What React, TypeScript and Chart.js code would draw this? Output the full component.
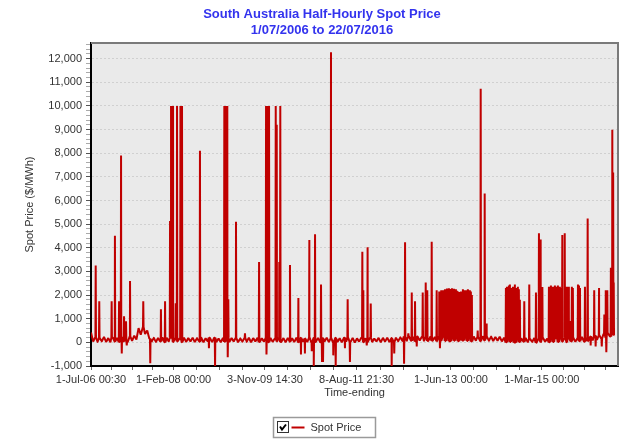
import React, { useEffect, useRef } from 'react';
import { Chart, registerables } from 'chart.js';

Chart.register(...registerables);

const titleLines = ['South Australia Half-Hourly Spot Price', '1/07/2006 to 22/07/2016'];
const seriesLabel = 'Spot Price';
const xAxisTitle = 'Time-ending';
const yAxisTitle = 'Spot Price ($/MWh)';

// x axis: days since 1-Jul-2006 00:30
const tickLabels = ['1-Jul-06 00:30', '1-Feb-08 00:00', '3-Nov-09 14:30', '8-Aug-11 21:30', '1-Jun-13 00:00', '1-Mar-15 00:00'];
const tickDays = [0, 580, 1221.6, 1864.9, 2527, 3165];
const minorTickDays = [145, 290, 435, 740.4, 900.8, 1061.2, 1382.4, 1543.2, 1704.1, 2030.4, 2195.9, 2361.5, 2686.5, 2846, 3005.5, 3315, 3465, 3615];
const xMin = 0;
const xMax = 3700;
const lastDay = 3674;

const yMin = -1000;
const yMax = 12660;

// half-monthly baseline price swings ($/MWh), Jul-2006 .. Jul-2016
const baselinePrices = [
  420, 30, 220, 10, 190, 40, 230, 20, 180, 0, 210, 30, 190, 10, 230, 40, 200, 20, 250, 60, 280, 120, 600, 320,
  650, 350, 500, 150, 20, 200, 10, 180, 40, 210, 0, 190, 30, 200, 10, 190, 40, 170, 0, 200, 20, 180, 40, 200,
  10, 180, 30, 200, 0, 170, 40, 190, 10, 200, 20, 160, 0, 190, 30, 200, 10, 180, 40, 190, 0, 170, 30, 190,
  20, 200, 0, 180, 40, 190, 10, 170, 30, 200, 0, 190, 20, 160, 40, 200, 10, 180, 0, 190, 30, 170, 10, 200,
  0, 190, 30, 160, 10, 200, -20, 180, 20, 190, 0, 170, 30, 200, 10, 180, -10, 190, 20, 170, 0, 200, 30, 180,
  10, 190, -10, 170, 30, 200, 0, 180, 20, 200, 10, 160, 40, 190, 0, 190, 30, 200, 10, 180, 20, 200, 40, 220,
  60, 250, 50, 260, 70, 230, 40, 250, 80, 240, 50, 260, 60, 250, 70, 230, 50, 250, 80, 260, 60, 240, 50, 250,
  70, 250, 50, 230, 80, 260, 60, 240, 40, 250, 70, 230, 50, 260, 80, 240, 60, 250, 50, 230, 70, 240, 40, 200,
  0, 180, 20, 160, -10, 190, 10, 170, 30, 190, 0, 150, 20, 180, -20, 170, 10, 190, 30, 160, 0, 190, 20, 170,
  10, 190, 30, 200, 0, 180, 40, 210, 20, 190, 50, 230, 30, 200, 60, 250, 80, 280, 100, 300, 150, 350, 200, 400,
  250, 420, 300,
];

// price excursions (spikes and dips): day since 1-Jul-2006 and price in $/MWh
const spikeDays2006 = [
  33, 58, 145, 168, 197, 211, 216, 232, 246, 251, 274, 367, 416, 491, 520, 555, 562, 569, 576, 595,
  604, 628, 639, 765, 828, 871, 936, 943, 950, 957, 960, 964, 1018, 1081, 1180,
];
const spikePrices2006 = [
  3250, 1740, 1740, 4510, 1740, 7900, -470, 1100, 890, -130, 2590, 1740, -880, 1400, 1740, 5130, 10000, 10000, 10000, 1650,
  10000, 10000, 10000, 8100, -250, -1000, 10000, 10000, 10000, 10000, -630, 1820, 5100, 380, 3400,
];

const spikeDays2009 = [
  1229, 1232, 1236, 1243, 1250, 1297, 1304, 1322, 1329, 1397, 1456, 1474, 1502, 1533, 1550, 1564, 1573, 1615, 1622, 1629,
  1685, 1701, 1718, 1783, 1802, 1818, 1905, 1912, 1936, 1942, 1964, 2111, 2129,
];
const spikePrices2009 = [
  10000, -510, 10000, 10000, 10000, 10000, 9200, 3400, 10000, 3270, 1880, -510, -470, 4330, -380, -1000, 4570, 2450, -830, -830,
  12270, -550, -1000, -250, 1820, -830, 3830, 2200, -130, 4020, 1640, -1000, -470,
];

const spikeDays2012 = [
  2198, 2205, 2228, 2252, 2275, 2287, 2329, 2350, 2361, 2392, 2427, 2445, 2450, 2459,
  2471, 2478, 2485, 2492, 2499, 2506, 2513, 2520, 2527, 2534, 2541, 2548, 2555, 2562, 2569, 2576, 2583,
  2597, 2604, 2611, 2618, 2625, 2632, 2639, 2646, 2653, 2660, 2667, 2674,
  2715, 2736, 2764, 2778,
  2913, 2920, 2927, 2934, 2941, 2948, 2955, 2962, 2969, 2976, 2983, 2990, 2997, 3004, 3011,
];
const spikePrices2012 = [
  -900, 4230, 380, 2110, 1740, -170, 2110, 2530, 2200, 4250, 2200, 2150, -250, 2200,
  2200, 2150, 2250, 2230, 2280, 2250, 2290, 2260, 2200, 2290, 2250, 2270, 2200, 2250, 2180, 2150, 2130,
  2150, 2100, 2250, 2200, 2050, 2200, 2150, 2250, 2100, 2200, 2150, 2000,
  500, 10720, 6300, 800,
  2300, 2350, 2200, 2400, 2450, 2300, 2250, 2350, 2200, 2450, 2300, 2100, 2350, 2250, 1800,
];

const spikeDays2014 = [
  3042, 3077, 3124, 3145, 3157, 3169,
  3215, 3222, 3229, 3236, 3243, 3250, 3257, 3264, 3271, 3278, 3285, 3292, 3299,
  3309, 3326, 3341, 3348, 3355, 3369, 3376, 3383,
  3419, 3426, 3433, 3468, 3487, 3508, 3533, 3543, 3567, 3586, 3604, 3614, 3618, 3625, 3650, 3660, 3666, 3670,
];
const spikePrices2014 = [
  1740, 2450, 2110, 4610, 4350, 2340,
  2350, 2300, 2400, 2250, 2350, 2200, 2400, 2350, 2300, 2400, 2250, 2350, 2300,
  4540, 4610, 2350, 2300, 2350, 900, 2350, 2300,
  2450, 2400, 2300, 2350, 5240, -130, 2200, -170, 2300, -170, 1175, 2200, -420, 2200, 3150, 8990, 7180, 2530,
];

function buildSeries() {
  const step = lastDay / (baselinePrices.length - 1);
  const pts: { x: number; y: number }[] = [];
  baselinePrices.forEach((v, i) => pts.push({ x: i * step, y: v }));
  const days = [...spikeDays2006, ...spikeDays2009, ...spikeDays2012, ...spikeDays2014];
  const prices = [...spikePrices2006, ...spikePrices2009, ...spikePrices2012, ...spikePrices2014];
  days.forEach((d, i) => {
    const base = baselinePrices[Math.min(baselinePrices.length - 1, Math.round(d / step))];
    pts.push({ x: Math.max(0, d - 2), y: base });
    pts.push({ x: d, y: prices[i] });
    pts.push({ x: Math.min(lastDay, d + 2), y: base });
  });
  pts.sort((a, b) => a.x - b.x);
  return pts;
}

const FONT = "'Liberation Sans', Arial, Helvetica, sans-serif";
const LINE_COLOR = '#C00000';
const TEXT_COLOR = '#333333';

const plotBackground = {
  id: 'plotBackground',
  beforeDraw(chart: any) {
    const { ctx, chartArea: a } = chart;
    ctx.save();
    ctx.fillStyle = '#EAEAEA';
    ctx.fillRect(a.left, a.top, a.right - a.left, a.bottom - a.top);
    ctx.restore();
  },
  afterDraw(chart: any) {
    const { ctx, chartArea: a } = chart;
    ctx.save();
    ctx.strokeStyle = '#7A7A7A';
    ctx.lineWidth = 2;
    ctx.beginPath();
    ctx.moveTo(a.left, a.top);
    ctx.lineTo(a.right, a.top);
    ctx.lineTo(a.right, a.bottom);
    ctx.stroke();
    ctx.restore();
  },
};

const boxedLegend = {
  id: 'boxedLegend',
  afterDraw(chart: any) {
    const { ctx } = chart;
    const label = chart.data.datasets[0].label;
    ctx.save();
    ctx.font = `11px ${FONT}`;
    const w = 102;
    const h = 20;
    const cx = 324;
    const x0 = Math.round(cx - w / 2) + 0.5;
    const y0 = 417.5;
    ctx.strokeStyle = '#9A9A9A';
    ctx.lineWidth = 1.5;
    ctx.strokeRect(x0, y0, w, h);
    const bx = x0 + 4;
    const by = y0 + 4;
    ctx.fillStyle = '#FFFFFF';
    ctx.fillRect(bx, by, 11, 11);
    ctx.strokeStyle = '#333333';
    ctx.lineWidth = 1;
    ctx.strokeRect(bx, by, 11, 11);
    ctx.strokeStyle = '#000000';
    ctx.lineWidth = 2;
    ctx.beginPath();
    ctx.moveTo(bx + 2.5, by + 5);
    ctx.lineTo(bx + 4.5, by + 8);
    ctx.lineTo(bx + 8.5, by + 3);
    ctx.stroke();
    ctx.strokeStyle = LINE_COLOR;
    ctx.lineWidth = 2;
    ctx.beginPath();
    ctx.moveTo(x0 + 18, y0 + 10);
    ctx.lineTo(x0 + 31, y0 + 10);
    ctx.stroke();
    ctx.fillStyle = TEXT_COLOR;
    ctx.textBaseline = 'middle';
    ctx.textAlign = 'left';
    ctx.fillText(label, x0 + 37, y0 + 10.5);
    ctx.restore();
  },
};

export default function App() {
  const ref = useRef<HTMLCanvasElement>(null);

  useEffect(() => {
    const canvas = ref.current;
    if (!canvas) return;
    const allXTicks = [...tickDays, ...minorTickDays].sort((a, b) => a - b);
    const yTicks: number[] = [];
    for (let v = yMin; v <= 12600; v += 200) yTicks.push(v);

    const chart = new Chart(canvas, {
      type: 'line',
      data: {
        datasets: [
          {
            label: seriesLabel,
            data: buildSeries(),
            borderColor: LINE_COLOR,
            backgroundColor: LINE_COLOR,
            borderWidth: 2,
            borderJoinStyle: 'bevel',
            pointRadius: 0,
            // tiny tension only to use the exact (non-fast-path) segment drawing
            tension: 0.000001,
            fill: false,
          },
        ],
      },
      options: {
        responsive: false,
        animation: false,
        devicePixelRatio: 1,
        layout: { padding: { left: 26, right: 11, top: 0, bottom: 39 } },
        plugins: {
          legend: { display: false },
          tooltip: { enabled: false },
          title: {
            display: true,
            text: titleLines,
            color: '#3333EE',
            font: { family: FONT, size: 13, weight: 'bold', lineHeight: 1.25 },
            padding: { top: 6, bottom: 4.5 },
          },
        },
        scales: {
          x: {
            type: 'linear',
            min: xMin,
            max: xMax,
            bounds: 'data',
            afterBuildTicks: (scale: any) => {
              scale.ticks = allXTicks.map((v) => ({ value: v }));
            },
            afterFit: (scale: any) => {
              scale.height = 34;
            },
            ticks: {
              autoSkip: false,
              maxRotation: 0,
              minRotation: 0,
              padding: 3,
              color: TEXT_COLOR,
              font: { family: FONT, size: 11 },
              callback: (value: any) => {
                const i = tickDays.findIndex((d) => Math.abs(d - Number(value)) < 0.01);
                return i >= 0 ? tickLabels[i] : '';
              },
            },
            grid: {
              display: true,
              drawOnChartArea: false,
              drawTicks: true,
              tickLength: 4,
              tickColor: '#666666',
            },
            border: { display: true, color: '#000000', width: 2 },
            title: {
              display: true,
              text: xAxisTitle,
              color: TEXT_COLOR,
              font: { family: FONT, size: 11 },
              padding: { top: 0, bottom: 0 },
            },
          },
          y: {
            type: 'linear',
            min: yMin,
            max: yMax,
            bounds: 'data',
            afterBuildTicks: (scale: any) => {
              scale.ticks = yTicks.map((v) => ({ value: v }));
            },
            afterFit: (scale: any) => {
              scale.width = 65;
            },
            ticks: {
              autoSkip: false,
              padding: 4,
              color: TEXT_COLOR,
              font: { family: FONT, size: 11 },
              callback: (value: any) => {
                const v = Number(value);
                return v % 1000 === 0 ? v.toLocaleString('en-US') : '';
              },
            },
            grid: {
              display: true,
              drawOnChartArea: true,
              drawTicks: true,
              tickLength: 5,
              tickColor: (ctx: any) => (ctx.tick && ctx.tick.value % 1000 === 0 ? '#555555' : '#AAAAAA'),
              lineWidth: 1,
              color: (ctx: any) =>
                ctx.tick && ctx.tick.value % 1000 === 0 && ctx.tick.value > yMin ? '#D0D0D0' : 'rgba(0,0,0,0)',
            },
            border: { display: true, color: '#000000', width: 2, dash: [2, 2] },
            title: {
              display: true,
              text: yAxisTitle,
              color: TEXT_COLOR,
              font: { family: FONT, size: 11 },
              padding: { top: -3, bottom: 0 },
            },
          },
        },
      },
      plugins: [plotBackground, boxedLegend],
    } as any);

    return () => chart.destroy();
  }, []);

  return (
    <div style={{ position: 'absolute', left: 0, top: 0, width: 629, height: 439, background: '#FFFFFF' }}>
      <canvas ref={ref} width={629} height={439} style={{ display: 'block', width: 629, height: 439 }} />
    </div>
  );
}
